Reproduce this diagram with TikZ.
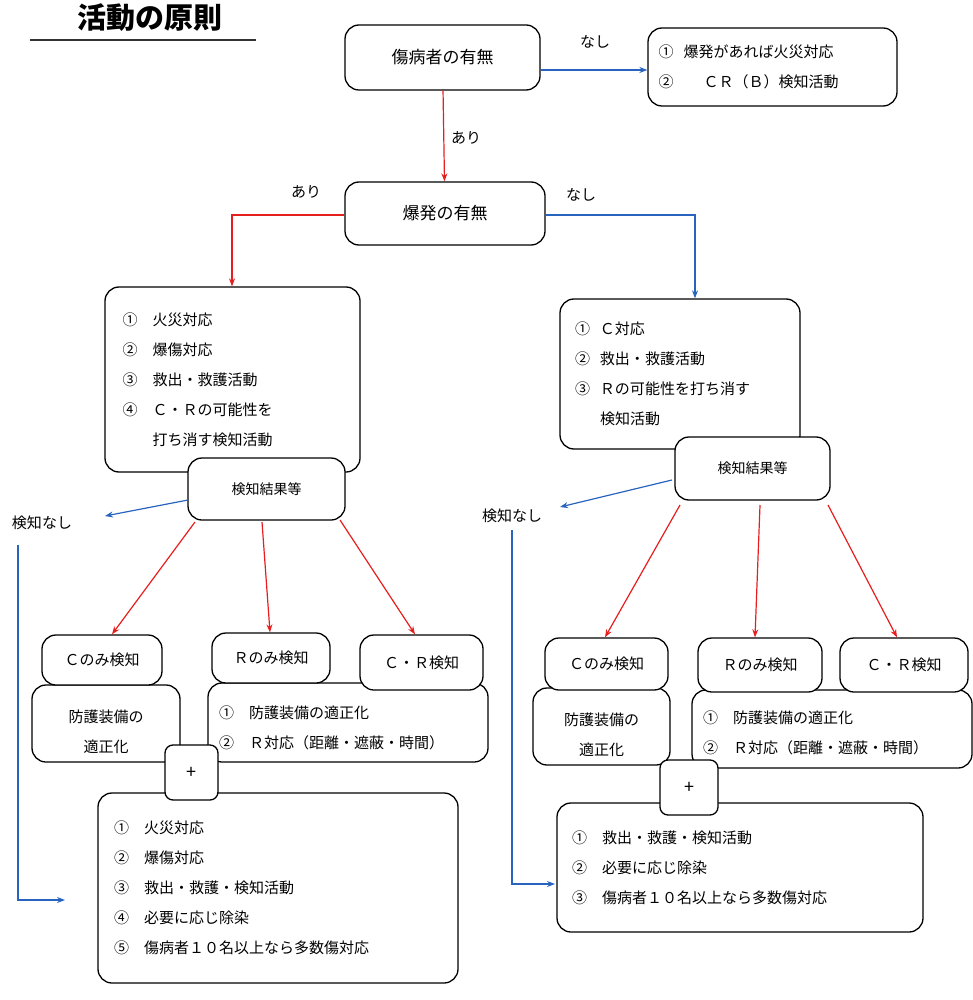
\documentclass[tikz,border=0pt]{standalone}
\usepackage{fontspec}
\setmainfont{Noto Sans CJK JP}
\usetikzlibrary{arrows.meta}
\definecolor{ablue}{RGB}{40,100,190}
\definecolor{ared}{RGB}{230,30,30}
\begin{document}
\begin{tikzpicture}[x=1pt,y=-1pt,
  box/.style={draw,line width=1.3pt,rounded corners=14pt,fill=white,inner sep=0pt,font=\fontsize{15}{30}\selectfont},
  lst/.style={box,align=left},
  big/.style={font=\fontsize{17}{20}\selectfont},
  rarr/.style={ared,line width=1.2pt,-{Stealth[length=8pt,width=6pt]}},
  barr/.style={ablue,line width=1.2pt,-{Stealth[length=8pt,width=6pt]}},
  lab/.style={font=\fontsize{15}{16}\selectfont}]
\useasboundingbox (0,0) rectangle (973,1000);
\node[font=\fontsize{29}{30}\selectfont\bfseries] (title) at (150,18) {活動の原則};
\coordinate (ul1) at (30,40); \coordinate (ul2) at (256,40);
\draw[line width=1.5pt,black!80] (ul1) -- (ul2);
% top
\node[box,big,minimum width=195pt,minimum height=65pt] (b1) at (442.5,57.5) {傷病者の有無};
\node[lst,minimum width=249pt,minimum height=78pt,text width=228pt] (b2) at (772.5,67) {①\ \ 爆発があれば火災対応\\②\qquad ＣＲ（Ｂ）検知活動};
\draw[barr] (b1.east|-0,70) -- (b2.west|-0,70);
\node[lab] (n1) at (595,42) {なし};
\node[box,big,minimum width=200pt,minimum height=63pt] (b3) at (445,213.5) {爆発の有無};
\draw[rarr] (b1) -- (b3);
\node[lab] (a1) at (466,138) {あり};
% branch boxes
\node[lst,minimum width=255pt,minimum height=185pt,text width=220pt] (b4) at (232.5,379.5) {①\quad 火災対応\\②\quad 爆傷対応\\③\quad 救出・救護活動\\④\quad Ｃ・Ｒの可能性を\\\phantom{④}\quad 打ち消す検知活動};
\node[lst,minimum width=240pt,minimum height=150pt,text width=210pt] (b5) at (680,374) {①\ \ Ｃ対応\\②\ \ 救出・救護活動\\③\ \ Ｒの可能性を打ち消す\\\phantom{③}\ \ 検知活動};
\coordinate (l1) at (232,215); \coordinate (r1) at (695,215);
\draw[rarr] (b3.west|-0,215) -- (l1) -- (b4.north-|l1);
\draw[barr] (b3.east|-0,215) -- (r1) -- (b5.north-|r1);
\node[lab] (a2) at (306,192) {あり};
\node[lab] (n2) at (581,195) {なし};
\node[box,minimum width=157pt,minimum height=62pt,font=\fontsize{14}{16}\selectfont] (k1) at (266.5,489) {検知結果等};
\node[box,minimum width=155pt,minimum height=63pt,font=\fontsize{14}{16}\selectfont] (k2) at (752.5,468.5) {検知結果等};
% no detection
\node[lab] (d1) at (42,523) {検知なし};
\node[lab] (d2) at (512,516) {検知なし};
\coordinate (kx1) at (188,500); \coordinate (kx2) at (672,480);
\coordinate (dx1) at (105,516); \coordinate (dx2) at (560,507);
\draw[barr] (kx1) -- (dx1);
\draw[barr] (kx2) -- (dx2);
% left small boxes
\node[box,minimum width=148pt,minimum height=77pt,align=center] (p1) at (106,723.5) {\\防護装備の\\適正化};
\node[box,minimum width=120pt,minimum height=50pt] (c1) at (102,660) {Ｃのみ検知};
\node[lst,minimum width=280pt,minimum height=79pt,text width=258pt] (w1) at (348,722.5) {\\[-6pt]①\quad 防護装備の適正化\\②\quad Ｒ対応（距離・遮蔽・時間）};
\node[box,minimum width=118pt,minimum height=50pt] (r1b) at (271,658) {Ｒのみ検知};
\node[box,minimum width=123pt,minimum height=55pt] (cr1) at (421.5,662.5) {Ｃ・Ｒ検知};
\draw[rarr] (195,522) -- (c1.north-|112,0);
\draw[rarr] (262,522) -- (r1b.north-|270,0);
\draw[rarr] (340,520) -- (cr1.north-|415,0);
\node[lst,minimum width=360pt,minimum height=190pt,text width=328pt] (f1) at (278,888) {①\quad 火災対応\\②\quad 爆傷対応\\③\quad 救出・救護・検知活動\\④\quad 必要に応じ除染\\⑤\quad 傷病者１０名以上なら多数傷対応};
\node[box,rounded corners=8pt,minimum width=53pt,minimum height=55pt,font=\fontsize{18}{18}\selectfont] (pl1) at (191.5,772.5) {+};
\coordinate (v1) at (18,545); \coordinate (v2) at (18,900);
\draw[barr] (v1) -- (v2) -- (65,900);
% right small boxes
\node[box,minimum width=137pt,minimum height=77pt,align=center] (p2) at (601.5,726.5) {\\防護装備の\\適正化};
\node[box,minimum width=123pt,minimum height=52pt] (c2) at (606.5,664) {Ｃのみ検知};
\node[lst,minimum width=280pt,minimum height=78pt,text width=258pt] (w2) at (832,729) {\\[-10pt]①\quad 防護装備の適正化\\②\quad Ｒ対応（距離・遮蔽・時間）};
\node[box,minimum width=124pt,minimum height=54pt] (r2b) at (760,665) {Ｒのみ検知};
\node[box,minimum width=128pt,minimum height=54pt] (cr2) at (904,665) {Ｃ・Ｒ検知};
\draw[rarr] (680,505) -- (c2.north-|605,0);
\draw[rarr] (760,505) -- (r2b.north-|755,0);
\draw[rarr] (828,505) -- (cr2.north-|897,0);
\node[lst,minimum width=366pt,minimum height=129pt,text width=336pt] (f2) at (740,867.5) {①\quad 救出・救護・検知活動\\②\quad 必要に応じ除染\\③\quad 傷病者１０名以上なら多数傷対応};
\node[box,rounded corners=8pt,minimum width=58pt,minimum height=55pt,font=\fontsize{18}{18}\selectfont] (pl2) at (689,787.5) {+};
\coordinate (v3) at (512,530); \coordinate (v4) at (512,884);
\draw[barr] (v3) -- (v4) -- (555,884);
\end{tikzpicture}
\end{document}
